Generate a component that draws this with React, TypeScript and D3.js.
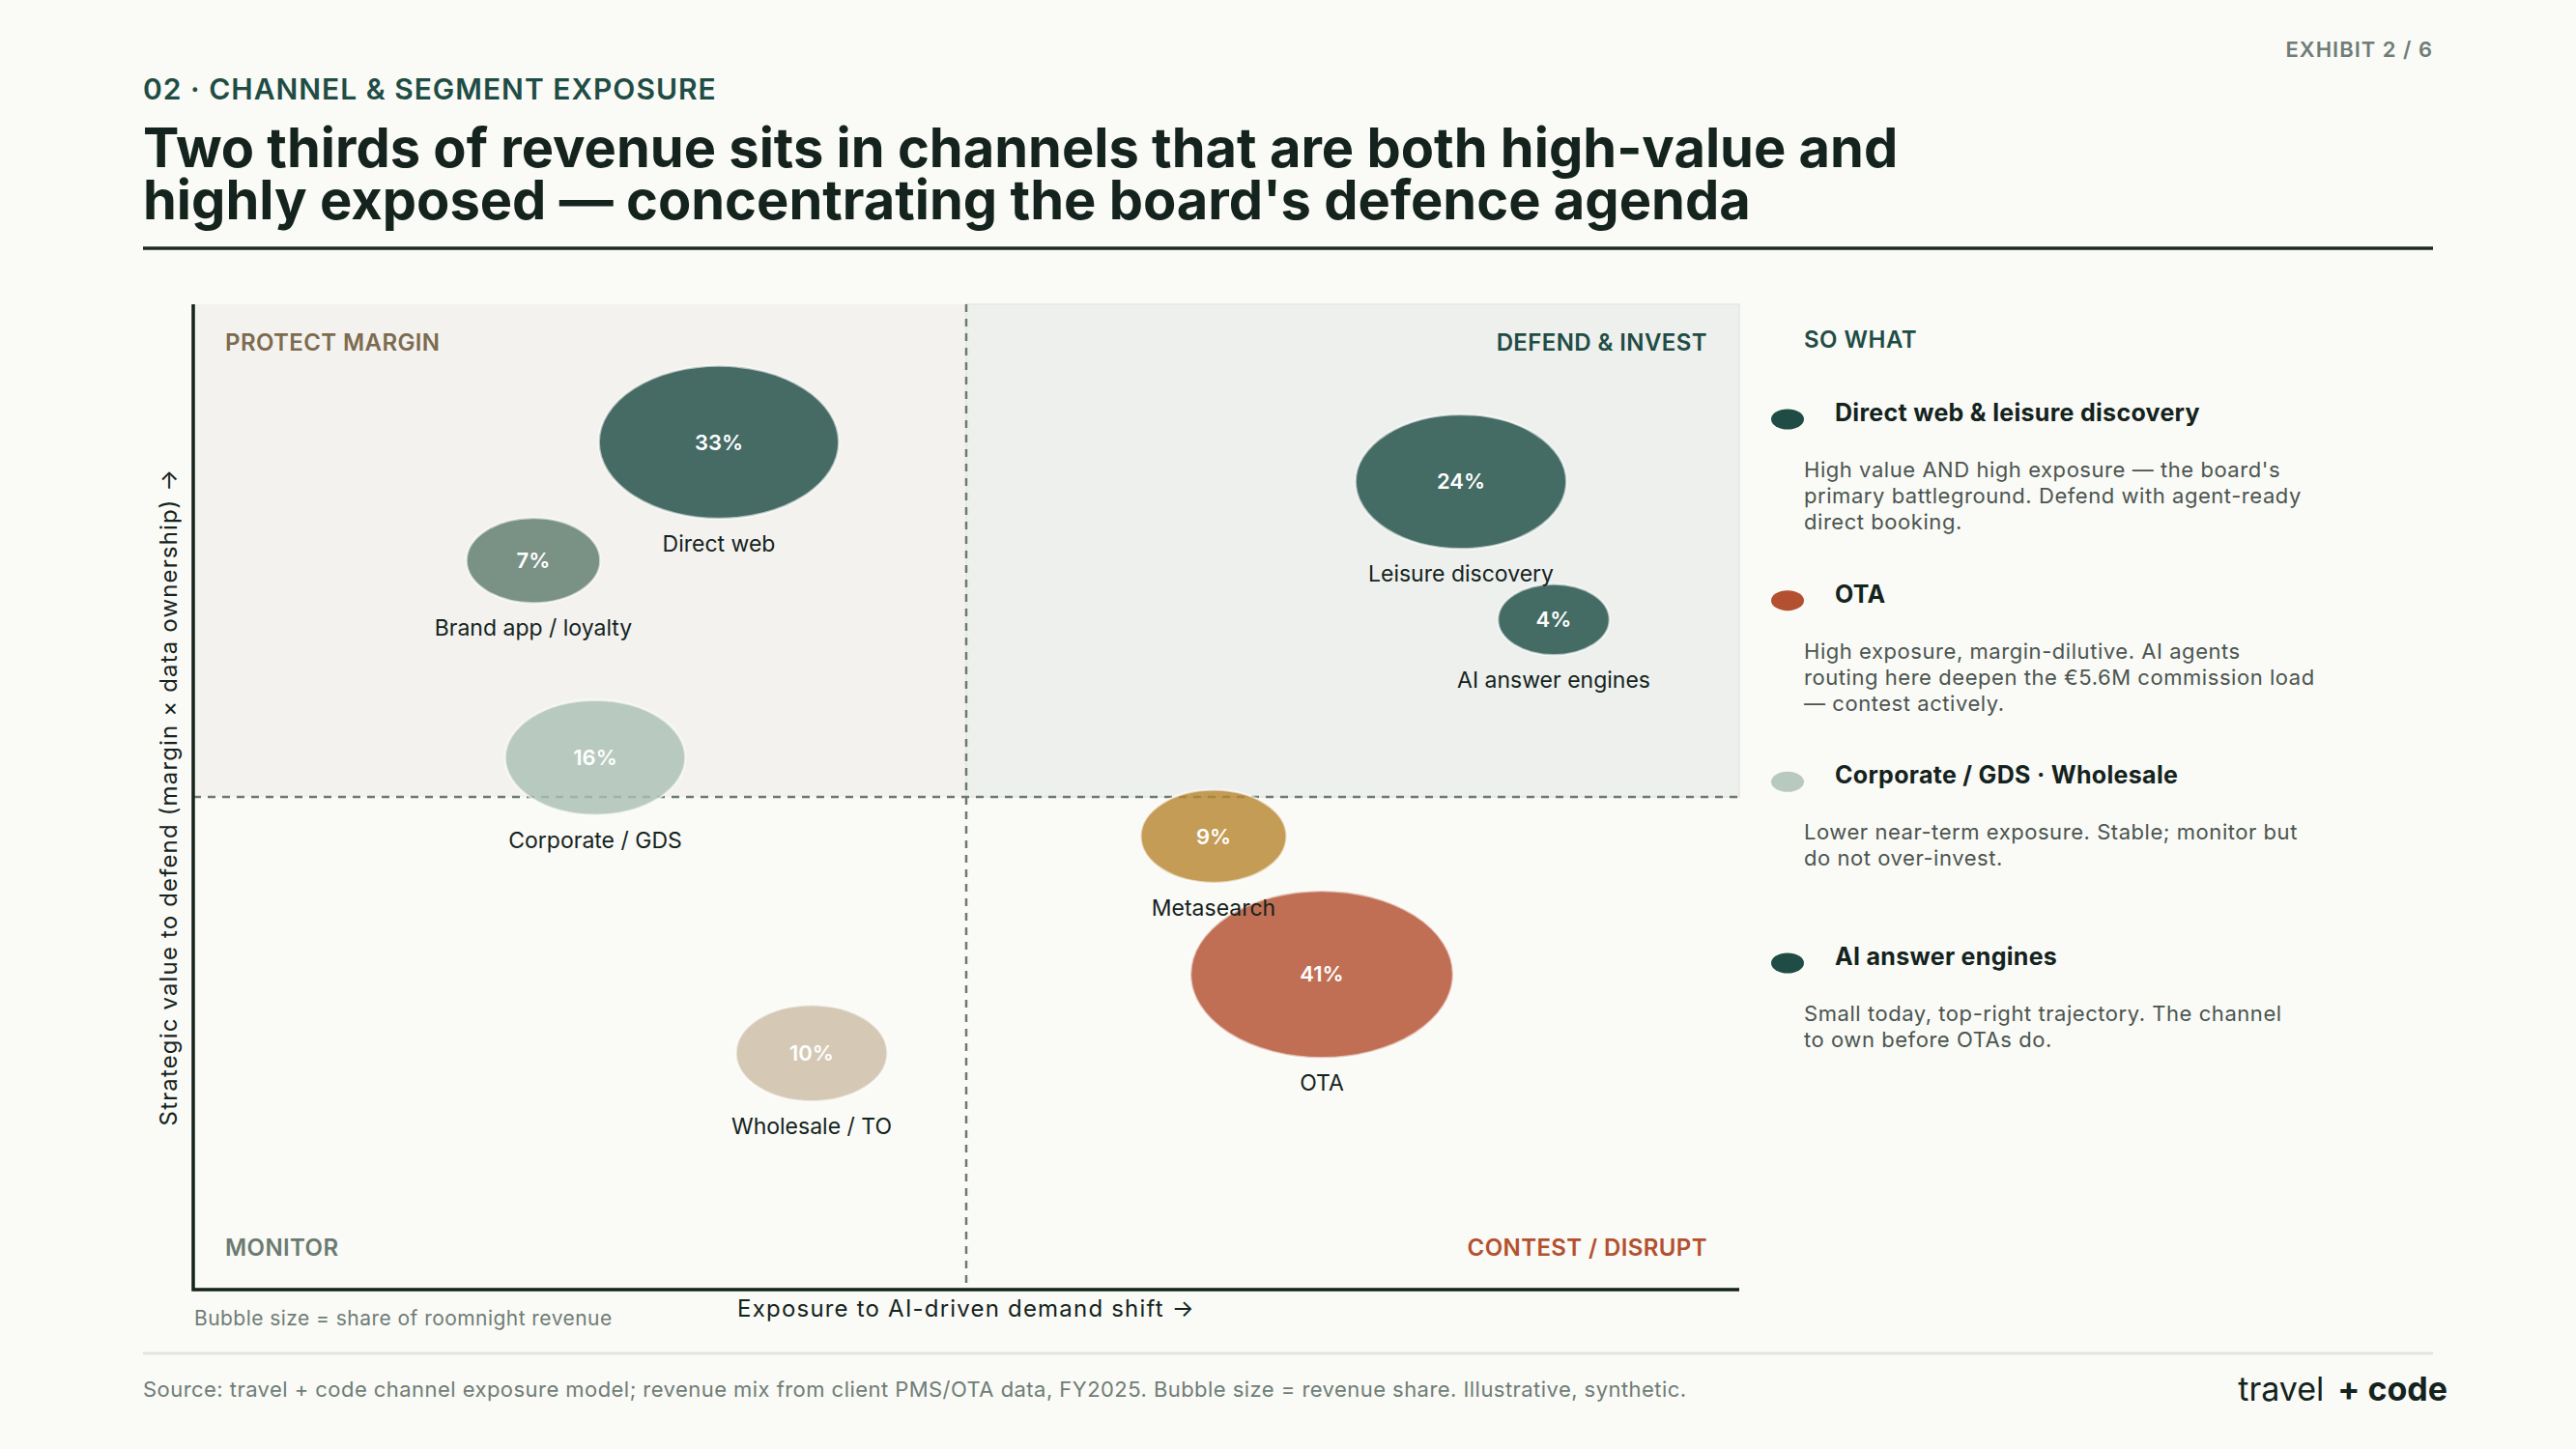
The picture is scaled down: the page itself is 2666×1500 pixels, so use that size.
import React from "react";
import * as d3 from "d3";

const W = 2666;
const H = 1500;

// channel data
const channels = [
  "Direct web",
  "Brand app / loyalty",
  "Corporate / GDS",
  "Wholesale / TO",
  "Leisure discovery",
  "AI answer engines",
  "Metasearch",
  "OTA",
];
const exposure = [34, 22, 26, 40, 82, 88, 66, 73];
const strategicValue = [86, 74, 54, 24, 82, 68, 46, 32];
const revenueShare = [33, 7, 16, 10, 24, 4, 9, 41];

const channelColor: Record<string, string> = {
  "Direct web": "#1f4d45",
  "Brand app / loyalty": "#5f7b6f",
  "Corporate / GDS": "#abc0b4",
  "Wholesale / TO": "#cdbea7",
  "Leisure discovery": "#1f4d45",
  "AI answer engines": "#1f4d45",
  Metasearch: "#b88732",
  OTA: "#b3502f",
};

const quadrantNames = ["PROTECT MARGIN", "DEFEND & INVEST", "MONITOR", "CONTEST / DISRUPT"];
const quadrantColors = ["#7d6b4f", "#1f4d45", "#6b7a72", "#b3502f"];

const noteTitles = [
  "Direct web & leisure discovery",
  "OTA",
  "Corporate / GDS · Wholesale",
  "AI answer engines",
];
const noteColors = ["#1f4d45", "#b3502f", "#b8c9bf", "#1f4d45"];
const noteBodies = [
  [
    "High value AND high exposure — the board's",
    "primary battleground. Defend with agent-ready",
    "direct booking.",
  ],
  [
    "High exposure, margin-dilutive. AI agents",
    "routing here deepen the €5.6M commission load",
    "— contest actively.",
  ],
  ["Lower near-term exposure. Stable; monitor but", "do not over-invest."],
  ["Small today, top-right trajectory. The channel", "to own before OTAs do."],
];

const plot = { left: 200, right: 1800, top: 315, bottom: 1335 };

const x = d3.scaleLinear().domain([0, 100]).range([plot.left, plot.right]);
const y = d3.scaleLinear().domain([0, 100]).range([plot.bottom, plot.top]);
const r = d3.scaleSqrt().domain([0, 41]).range([1.4, 8.5]);

const font = "Inter, 'Noto Sans', sans-serif";
const ink = "#14231d";
const muted = "#6f7d76";

function App() {
  const bubbles = channels.map((name, i) => {
    const rad = r(revenueShare[i]);
    return {
      name,
      share: revenueShare[i],
      cx: x(exposure[i]),
      cy: y(strategicValue[i]),
      rx: x(rad) - x(0),
      ry: y(0) - y(rad),
      color: channelColor[name],
    };
  });

  const midX = x(50);
  const midY = y(50);
  const noteY = d3.scaleLinear().domain([0, 3]).range([427, 990]);

  const quadrantPos = [
    { x: plot.left + 33, y: plot.top + 48, anchor: "start" },
    { x: plot.right - 33, y: plot.top + 48, anchor: "end" },
    { x: plot.left + 33, y: plot.bottom - 35, anchor: "start" },
    { x: plot.right - 33, y: plot.bottom - 35, anchor: "end" },
  ];

  return (
    <div style={{ position: "absolute", left: 0, top: 0 }}>
      <svg width={W} height={H} style={{ display: "block", fontFamily: font }}>
        <rect width={W} height={H} fill="#fafaf6" />

        {/* header */}
        <text x={2518} y={59} textAnchor="end" fontSize={22} fontWeight={600} fill={muted} letterSpacing={1}>
          EXHIBIT 2 / 6
        </text>
        <text x={148} y={103} fontSize={30} fontWeight={600} fill="#1f4d45" letterSpacing={1}>
          02 · CHANNEL &amp; SEGMENT EXPOSURE
        </text>
        <text x={148} y={173} fontSize={56} fontWeight={700} fill={ink}>
          Two thirds of revenue sits in channels that are both high-value and
        </text>
        <text x={148} y={227} fontSize={56} fontWeight={700} fill={ink}>
          highly exposed — concentrating the board's defence agenda
        </text>
        <line x1={148} x2={2518} y1={257} y2={257} stroke="#1c2a24" strokeWidth={3.5} />

        {/* quadrant shading */}
        <rect x={plot.left} y={plot.top} width={midX - plot.left} height={midY - plot.top} fill="#f3f2ee" />
        <rect
          x={midX}
          y={plot.top}
          width={plot.right - midX}
          height={midY - plot.top}
          fill="#eef0ed"
          stroke="#e4e7e3"
          strokeWidth={1.5}
        />

        {quadrantNames.map((q, i) => (
          <text
            key={q}
            x={quadrantPos[i].x}
            y={quadrantPos[i].y}
            textAnchor={quadrantPos[i].anchor as any}
            fontSize={24}
            fontWeight={600}
            fill={quadrantColors[i]}
            letterSpacing={0.4}
          >
            {q}
          </text>
        ))}

        {/* dividers */}
        <line x1={midX} x2={midX} y1={plot.top} y2={plot.bottom} stroke="#6b7a72" strokeWidth={2.5} strokeDasharray="8 7" />
        <line x1={plot.left} x2={plot.right} y1={midY} y2={midY} stroke="#6b7a72" strokeWidth={2.5} strokeDasharray="8 7" />

        {/* bubbles */}
        {bubbles.map((b) => (
          <ellipse
            key={b.name}
            cx={b.cx}
            cy={b.cy}
            rx={b.rx}
            ry={b.ry}
            fill={b.color}
            fillOpacity={0.82}
            stroke="#ffffff"
            strokeOpacity={0.6}
            strokeWidth={2.5}
          />
        ))}
        {bubbles.map((b) => (
          <text
            key={b.name + "pct"}
            x={b.cx}
            y={b.cy}
            dy="0.35em"
            textAnchor="middle"
            fontSize={22}
            fontWeight={600}
            fill="#ffffff"
          >
            {b.share}%
          </text>
        ))}
        {bubbles.map((b) => (
          <text
            key={b.name + "lbl"}
            x={b.cx}
            y={b.cy + b.ry + 34}
            textAnchor="middle"
            fontSize={23}
            fill={ink}
          >
            {b.name}
          </text>
        ))}

        {/* axes */}
        <path
          d={`M${plot.left},${plot.top}V${plot.bottom}H${plot.right}`}
          fill="none"
          stroke={ink}
          strokeWidth={3.5}
        />
        <text x={midX} y={1363} textAnchor="middle" fontSize={24} fill={ink} letterSpacing={1.2}>
          Exposure to AI-driven demand shift  →
        </text>
        <text
          transform={`translate(183,${midY}) rotate(-90)`}
          textAnchor="middle"
          fontSize={24}
          fill={ink}
          letterSpacing={1.15}
        >
          Strategic value to defend (margin × data ownership)  →
        </text>
        <text x={plot.left + 1} y={1372} fontSize={21} fill={muted} letterSpacing={0.45}>
          Bubble size = share of roomnight revenue
        </text>

        {/* so what panel */}
        <text x={1867} y={360} fontSize={24} fontWeight={600} fill="#1f4d45" letterSpacing={0.5}>
          SO WHAT
        </text>
        {noteTitles.map((t, i) => {
          const ty = noteY(i);
          return (
            <g key={t}>
              <ellipse cx={1850} cy={ty + 7} rx={17} ry={10.5} fill={noteColors[i]} />
              <text x={1899} y={ty + 9} fontSize={25} fontWeight={700} fill={ink} letterSpacing={0.3}>
                {t}
              </text>
              {noteBodies[i].map((line, j) => (
                <text key={j} x={1867} y={ty + 67 + j * 27} fontSize={22} fill="#4b5550" letterSpacing={0.55}>
                  {line}
                </text>
              ))}
            </g>
          );
        })}

        {/* footer */}
        <line x1={148} x2={2518} y1={1401} y2={1401} stroke="#e3e4df" strokeWidth={3} />
        <text x={148} y={1446} fontSize={22} fill={muted} letterSpacing={0.45}>
          Source: travel + code channel exposure model; revenue mix from client PMS/OTA data, FY2025. Bubble size =
          revenue share. Illustrative, synthetic.
        </text>
        <text x={2533} y={1450} textAnchor="end" fontSize={34} fill={ink}>
          <tspan>travel</tspan>
          <tspan dx={14} fontWeight={700}>
            + code
          </tspan>
        </text>
      </svg>
    </div>
  );
}

export default App;
